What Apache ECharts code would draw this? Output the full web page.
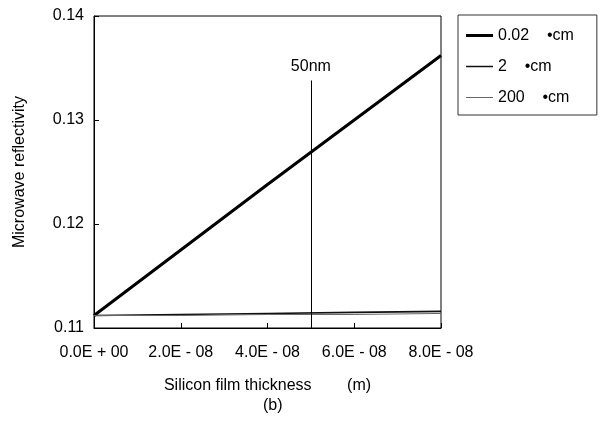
<!DOCTYPE html>
<html>
<head>
<meta charset="utf-8">
<script src="https://cdn.jsdelivr.net/npm/echarts@6/dist/echarts.min.js"></script>
<style>
  html, body { margin: 0; padding: 0; background: #fff; }
  #chart { width: 607px; height: 421px; }
</style>
</head>
<body>
<div id="chart"></div>
<script>
// film thickness (m)
const thickness = [0, 2e-8, 4e-8, 6e-8, 8e-8];
// reflectivity per resistivity
const r002 = [0.1112, 0.1175, 0.1238, 0.1300, 0.1362];
const r2 = [0.1112, 0.1113, 0.1114, 0.1115, 0.1116];
const r200 = [0.1112, 0.1112, 0.1113, 0.1113, 0.1114];
const seriesNames = ['0.02    \u2022cm', '2    \u2022cm', '200    \u2022cm'];
const markX = 5e-8;
const markTop = 0.1338;

const font = '"Liberation Sans", Arial, sans-serif';
const fs = 16;
const chart = echarts.init(document.getElementById('chart'));

const pairs = ys => thickness.map((x, i) => [x, ys[i]]);

const fmtX = v => {
  if (v === 0) return '0.0E + 00';
  const e = Math.floor(Math.log10(v) + 1e-9);
  const m = v / Math.pow(10, e);
  return m.toFixed(1) + 'E - ' + String(-e).padStart(2, '0');
};

const option = {
  animation: false,
  textStyle: { fontFamily: font, color: '#000' },
  grid: {
    left: 94, top: 16, right: 166, bottom: 93,
    show: true, borderColor: '#000', borderWidth: 1
  },
  title: {
    text: '(b)',
    left: 258, top: 393,
    textStyle: { fontFamily: font, fontSize: fs, fontWeight: 'normal', color: '#000' }
  },
  legend: {
    orient: 'vertical',
    left: 458, top: 15,
    padding: [11, 23, 8, 8],
    itemGap: 12,
    itemWidth: 27,
    itemHeight: 3,
    symbolKeepAspect: true,
    borderColor: '#333',
    borderWidth: 1,
    textStyle: { fontFamily: font, fontSize: fs, color: '#000', lineHeight: 19 },
    data: [
      { name: seriesNames[0], icon: 'path://M0,0H27V3H0Z' },
      { name: seriesNames[1], icon: 'path://M0,0H54V3H0Z' },
      { name: seriesNames[2], icon: 'path://M0,0H81V3H0Z' }
    ]
  },
  xAxis: {
    type: 'value',
    min: 0, max: 8e-8, interval: 2e-8,
    name: 'Silicon film thickness        (m)',
    nameLocation: 'middle',
    nameGap: 50,
    nameTextStyle: { fontFamily: font, fontSize: fs, color: '#000' },
    axisLine: { lineStyle: { color: '#000' } },
    axisTick: { inside: true, length: 5, lineStyle: { color: '#000' } },
    axisLabel: { formatter: fmtX, margin: 17, fontSize: fs, color: '#000', fontFamily: font },
    splitLine: { show: false }
  },
  yAxis: {
    type: 'value',
    min: 0.11, max: 0.14, interval: 0.01,
    name: 'Microwave reflectivity',
    nameLocation: 'middle',
    nameGap: 66,
    nameTextStyle: { fontFamily: font, fontSize: fs, color: '#000' },
    axisLine: { show: true, lineStyle: { color: '#000' } },
    axisTick: { show: true, inside: true, length: 5, lineStyle: { color: '#000' } },
    axisLabel: { formatter: v => v.toFixed(2), margin: 10, fontSize: fs, color: '#000', fontFamily: font },
    splitLine: { show: false }
  },
  series: [
    {
      name: seriesNames[0], type: 'line', symbol: 'none',
      data: pairs(r002),
      lineStyle: { color: '#000', width: 3 }, itemStyle: { color: '#000' },
      markLine: {
        silent: true, symbol: 'none',
        lineStyle: { color: '#000', width: 1, type: 'solid' },
        label: { show: true, position: 'end', formatter: '50nm', fontSize: fs, color: '#000', fontFamily: font, distance: 6 },
        data: [[{ coord: [markX, 0.11] }, { coord: [markX, markTop] }]]
      }
    },
    {
      name: seriesNames[1], type: 'line', symbol: 'none',
      data: pairs(r2),
      lineStyle: { color: '#111', width: 1.6 }, itemStyle: { color: '#111' }
    },
    {
      name: seriesNames[2], type: 'line', symbol: 'none',
      data: pairs(r200),
      lineStyle: { color: '#666', width: 1 }, itemStyle: { color: '#666' }
    }
  ]
};

chart.setOption(option);
</script>
</body>
</html>
